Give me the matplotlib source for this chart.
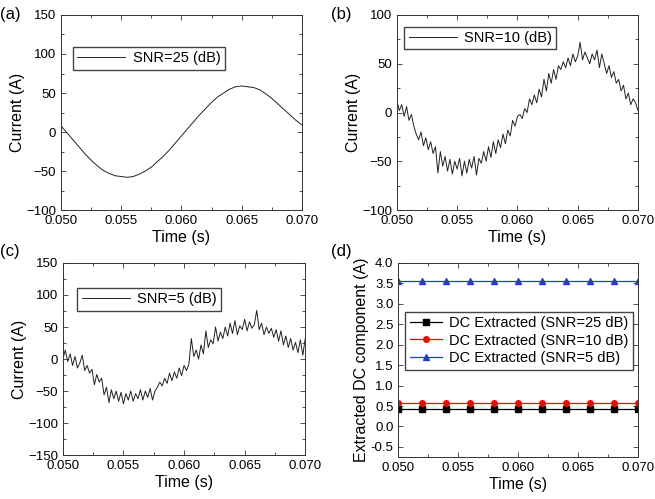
import numpy as np
import matplotlib
matplotlib.use("Agg")
import matplotlib.pyplot as plt
from matplotlib.ticker import MultipleLocator

plt.rcParams["font.family"] = ["Liberation Sans", "DejaVu Sans"]

# (a) SNR = 25 dB, sampled every 0.5 ms
current_25db = [8, -1, -10, -19, -28, -36, -43, -49, -53, -56, -57, -58, -57, -54,
                -50, -45, -38, -31, -23, -14, -5, 4, 13, 22, 30, 38, 45, 50, 55,
                58, 59, 58, 57, 54, 49, 43, 36, 29, 22, 15, 9]

# (b) SNR = 10 dB, sampled every 0.2 ms
current_10db = [12, 2, 8, -4, 6, -8, -2, -14, -22, -28, -20, -34, -26, -38, -30,
                -42, -35, -62, -40, -55, -45, -60, -48, -63, -50, -58, -47, -65,
                -50, -62, -48, -57, -45, -64, -47, -52, -40, -50, -35, -46, -30,
                -42, -28, -36, -22, -32, -18, -24, -8, -14, -4, -2, -6, 4, 0, 14,
                8, 18, 10, 24, 16, 34, 22, 40, 30, 44, 34, 48, 44, 52, 46, 56, 48,
                60, 52, 58, 72, 54, 62, 56, 50, 60, 54, 64, 46, 60, 50, 40, 48, 36,
                42, 30, 34, 22, 28, 14, 20, 8, 14, 10, 2]

# (c) SNR = 5 dB, sampled every 0.2 ms
current_5db = [0, 14, -4, 8, -10, 4, -14, -6, 6, -18, -10, -22, -16, -40, -24,
               -36, -30, -56, -44, -68, -48, -62, -50, -66, -52, -70, -54, -64,
               -50, -66, -54, -62, -48, -64, -50, -60, -46, -64, -50, -44, -36,
               -42, -30, -38, -22, -34, -20, -30, -14, -26, -10, -18, -8, 32, 4,
               14, 0, 22, 8, 44, 18, 30, 24, 50, 28, 42, 32, 50, 36, 56, 40, 60,
               38, 52, 46, 62, 44, 58, 48, 54, 76, 46, 56, 38, 50, 40, 48, 34, 46,
               28, 44, 22, 36, 18, 32, 14, 26, 10, 30, 6, 32]

# (d) extracted DC component
dc_time = [0.050, 0.052, 0.054, 0.056, 0.058, 0.060, 0.062, 0.064, 0.066, 0.068, 0.070]
dc_25db = [0.43] * len(dc_time)
dc_10db = [0.58] * len(dc_time)
dc_5db = [3.55] * len(dc_time)

T_START, T_END = 0.050, 0.070


def style_axis(ax, ymin, ymax, ymajor, yminor):
    ax.set_xlim(T_START, T_END)
    ax.set_ylim(ymin, ymax)
    ax.xaxis.set_major_locator(MultipleLocator(0.005))
    ax.xaxis.set_minor_locator(MultipleLocator(0.0025))
    ax.yaxis.set_major_locator(MultipleLocator(ymajor))
    if yminor:
        ax.yaxis.set_minor_locator(MultipleLocator(yminor))
    ax.xaxis.set_major_formatter(plt.FuncFormatter(lambda v, p: f"{v:.3f}"))
    ax.tick_params(which="both", direction="in", top=True, right=True,
                   labelsize=9.5, colors="#333333", labelcolor="black")
    ax.tick_params(which="major", length=3.5, width=0.6)
    ax.tick_params(which="minor", length=2, width=0.6)
    for s in ax.spines.values():
        s.set_linewidth(0.7)
        s.set_color("#333333")
    ax.set_xlabel("Time (s)", fontsize=11.5, labelpad=2)


fig = plt.figure(figsize=(6.55, 4.99), dpi=100)
ax_a = fig.add_axes([0.093, 0.579, 0.368, 0.391])
ax_b = fig.add_axes([0.606, 0.579, 0.368, 0.391])
ax_c = fig.add_axes([0.096, 0.088, 0.370, 0.385])
ax_d = fig.add_axes([0.608, 0.084, 0.366, 0.389])

leg_kw = dict(fontsize=10.5, fancybox=False, edgecolor="#444444", framealpha=1,
              handlelength=3.3, borderpad=0.3, handletextpad=0.5, borderaxespad=0)

for ax, values, label, ylim, anchor in [
    (ax_a, current_25db, "SNR=25 (dB)", (-100, 150, 50, 25), (0.05, 0.836)),
    (ax_b, current_10db, "SNR=10 (dB)", (-100, 100, 50, 25), (0.03, 0.94)),
    (ax_c, current_5db, "SNR=5 (dB)", (-150, 150, 50, 25), (0.06, 0.87)),
]:
    t = np.linspace(T_START, T_END, len(values))
    ax.plot(t, values, color="#222222", lw=0.7, label=label)
    style_axis(ax, *ylim)
    ax.set_ylabel("Current (A)", fontsize=11.5, labelpad=1)
    ax.legend(loc="upper left", bbox_to_anchor=anchor, **leg_kw)

ax_d.plot(dc_time, dc_25db, color="black", lw=0.9, marker="s", ms=4,
          label="DC Extracted (SNR=25 dB)")
ax_d.plot(dc_time, dc_10db, color="red", lw=0.9, marker="o", ms=4,
          label="DC Extracted (SNR=10 dB)")
ax_d.plot(dc_time, dc_5db, color="#1f3fd0", lw=0.9, marker="^", ms=4,
          label="DC Extracted (SNR=5 dB)")
style_axis(ax_d, -0.75, 4.0, 0.5, None)
ax_d.yaxis.set_major_formatter(plt.FuncFormatter(lambda v, p: f"{v:.1f}"))
ax_d.set_ylabel("Extracted DC component (A)", fontsize=11.5, labelpad=1)
leg_d = dict(leg_kw, handlelength=2.2, labelspacing=0.25)
ax_d.legend(loc="upper left", bbox_to_anchor=(0.03, 0.75), **leg_d)

for txt, x, y in [("(a)", 0.0, 0.97), ("(b)", 0.505, 0.97),
                  ("(c)", 0.0, 0.495), ("(d)", 0.505, 0.495)]:
    fig.text(x, y, txt, fontsize=12, va="center", ha="left")

fig.savefig("out.png", dpi=100)
